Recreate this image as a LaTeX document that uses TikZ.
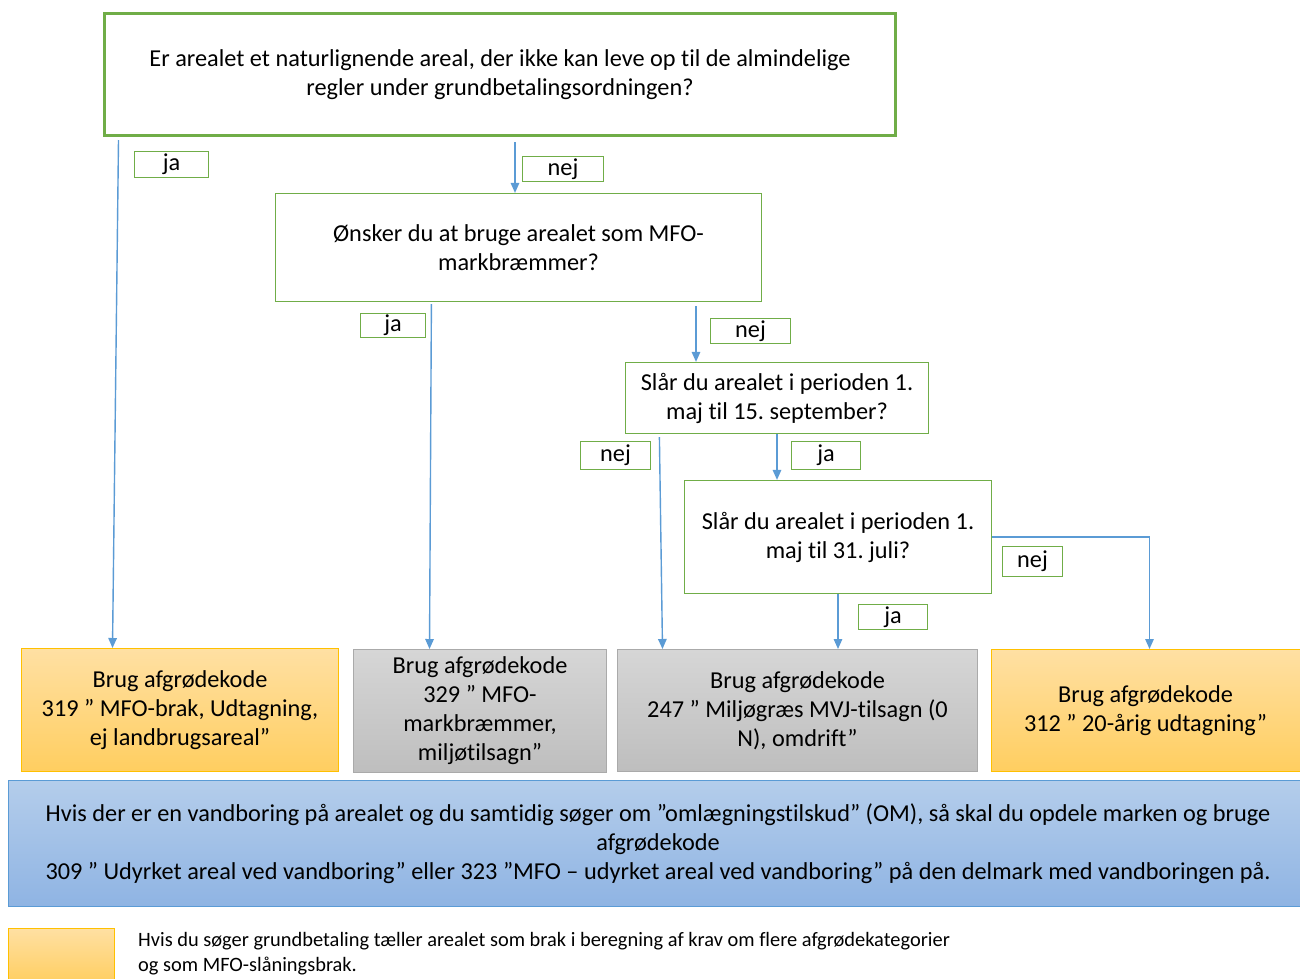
\documentclass[tikz,border=0pt]{standalone}
\usepackage{fontspec}
\setmainfont{Carlito}[Ligatures=NoCommon]
\frenchspacing
\usetikzlibrary{arrows.meta,positioning,calc}
\usepackage{xcolor}
\definecolor{qgreen}{RGB}{112,173,71}
\definecolor{linkblue}{RGB}{91,155,213}
\definecolor{brakline}{RGB}{255,192,0}
\definecolor{braktop}{RGB}{255,224,163}
\definecolor{brakbot}{RGB}{255,206,96}
\definecolor{graytop}{RGB}{214,214,214}
\definecolor{graybot}{RGB}{190,190,190}
\definecolor{grayline}{RGB}{170,170,170}
\definecolor{bluetop}{RGB}{180,205,235}
\definecolor{bluebot}{RGB}{143,180,227}

\begin{document}
\begin{tikzpicture}[x=1pt, y=-1pt,
    question/.style={rectangle, draw=qgreen, line width=1.2pt, fill=white, align=center, inner sep=0pt, font=\fontsize{24.3}{29}\selectfont},
    answer/.style={rectangle, draw=qgreen, line width=1.2pt, fill=white, inner sep=0pt, font=\fontsize{24.3}{24}\selectfont},
    brak/.style={rectangle, draw=brakline, line width=1pt, top color=braktop, bottom color=brakbot, align=center, inner sep=0pt, font=\fontsize{24.3}{29}\selectfont},
    miljo/.style={rectangle, draw=grayline, line width=1pt, top color=graytop, bottom color=graybot, align=center, inner sep=0pt, font=\fontsize{24.3}{29}\selectfont},
    link/.style={draw=linkblue, line width=1.4pt, -{Triangle[length=10pt,width=8.5pt]}}]

    \useasboundingbox (0,0) rectangle (1300,978);

    \node[question, line width=3pt, minimum width=791pt, minimum height=122pt] (natur) at (500,74.5) {Er arealet et naturlignende areal, der ikke kan leve op til de almindelige\\ regler under grundbetalingsordningen?};
    \node[question, minimum width=486pt, minimum height=108pt] (mfo) at (518.5,247.5) {Ønsker du at bruge arealet som MFO-\\ markbræmmer?};
    \node[question, minimum width=303pt, minimum height=71pt] (slaa15) at (777,398) {Slår du arealet i perioden 1.\\ maj til 15. september?};
    \node[question, minimum width=307pt, minimum height=113pt] (slaa31) at (838,537) {Slår du arealet i perioden 1.\\ maj til 31. juli?};

    \node[answer, minimum width=74pt, minimum height=26pt] (ja1) at (171.5,164.5) {ja};
    \node[answer, minimum width=81pt, minimum height=25pt] (nej1) at (563,169) {nej};
    \node[answer, minimum width=65pt, minimum height=24pt] (ja2) at (393,325.5) {ja};
    \node[answer, minimum width=80pt, minimum height=25pt] (nej2) at (750.5,331) {nej};
    \node[answer, minimum width=70pt, minimum height=28pt] (nej3) at (615.5,455.5) {nej};
    \node[answer, minimum width=69pt, minimum height=28pt] (ja3) at (826,455.5) {ja};
    \node[answer, minimum width=60pt, minimum height=30pt] (nej4) at (1032.5,561.5) {nej};
    \node[answer, minimum width=69pt, minimum height=25pt] (ja4) at (893,617) {ja};

    \node[brak, minimum width=317pt, minimum height=123pt] (kode319) at (180,710) {Brug afgrødekode\\ 319 ” MFO-brak, Udtagning,\\ ej landbrugsareal”};
    \node[miljo, minimum width=253pt, minimum height=123pt] (kode329) at (480,711) {Brug afgrødekode\\ 329 ” MFO-\\ markbræmmer,\\ miljøtilsagn”};
    \node[miljo, minimum width=360pt, minimum height=122pt] (kode247) at (797.5,710.5) {Brug afgrødekode\\ 247 ” Miljøgræs MVJ-tilsagn (0\\ N), omdrift”};
    \node[brak, minimum width=312pt, minimum height=122pt] (kode312) at (1147,710.5) {\hspace*{-3pt}Brug afgrødekode\\ \hspace*{-3pt}312 ” 20-årig udtagning”};

    \node[rectangle, draw=linkblue, line width=1pt, top color=bluetop, bottom color=bluebot, align=center, inner sep=0pt, minimum width=1300pt, minimum height=126pt, font=\fontsize{24.3}{29}\selectfont] (vandboring) at (658,843.5) {Hvis der er en vandboring på arealet og du samtidig søger om ”omlægningstilskud” (OM), så skal du opdele marken og bruge\\ afgrødekode\\ 309 ” Udyrket areal ved vandboring” eller 323 ”MFO – udyrket areal ved vandboring” på den delmark med vandboringen på.};

    \node[brak, minimum width=106pt, minimum height=56pt] (legende) at (61.5,956) {};
    \node[anchor=west, align=left, inner sep=0pt, font=\fontsize{20.4}{25}\selectfont] (legendetekst) at (138,954) {Hvis du søger grundbetaling tæller arealet som brak i beregning af krav om flere afgrødekategorier\\ og som MFO-slåningsbrak.};

    \draw[link] ($(natur.south west)+(15.5,3)$) -- ($(kode319.north west)+(91.5,0)$);
    \draw[link] ($(natur.south)+(15,5)$) -- ($(mfo.north)+(-3.5,0)$);
    \draw[link] ($(mfo.south west)+(156.5,2)$) -- ($(kode329.north west)+(76.5,0)$);
    \draw[link] ($(mfo.south)+(177.5,4)$) -- ($(slaa15.north)+(-81,0)$);
    \draw[link] ($(slaa15.south west)+(34.5,3)$) -- ($(kode247.north west)+(45.5,0)$);
    \draw[link] (slaa15.south) -- (slaa15.south |- slaa31.north);
    \draw[link] (slaa31.south) -- (slaa31.south |- kode247.north);
    \draw[link] (slaa31.east) -| ($(kode312.north west)+(159,0)$);
\end{tikzpicture}
\end{document}
